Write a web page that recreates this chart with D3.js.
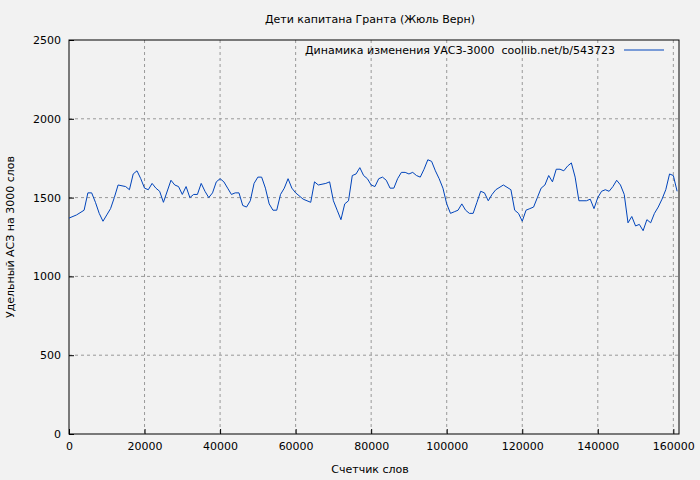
<!DOCTYPE html>
<html><head><meta charset="utf-8">
<script src="https://cdn.jsdelivr.net/npm/d3@7"></script>
<style>body{margin:0;background:#f2f2f2}text{font-family:"DejaVu Sans",sans-serif;font-size:11px;fill:#000;white-space:pre}</style>
</head><body><svg id="chart" width="700" height="480"></svg>
<script>
const words = [0,2000,4000,5000,6000,7000,8000,9000,10000,11000,12000,13000,15000,16000,17000,18000,19000,20000,21000,22000,23000,24000,25000,27000,28000,29000,30000,31000,32000,33000,34000,35000,36000,37000,38000,39000,40000,41000,42000,43000,44000,45000,46000,47000,48000,49000,50000,51000,52000,53000,54000,55000,56000,57000,58000,59000,60000,62000,64000,65000,66000,68000,69000,70000,71000,72000,73000,74000,75000,76000,77000,78000,79000,80000,81000,82000,83000,84000,85000,86000,87000,88000,89000,90000,91000,92000,93000,94000,95000,96000,97000,98000,99000,100000,101000,102000,103000,104000,105000,106000,107000,108000,109000,110000,111000,112000,113000,115000,117000,118000,119000,120000,121000,122000,123000,124000,125000,126000,127000,128000,129000,130000,131000,132000,133000,134000,135000,137000,138000,139000,140000,141000,142000,143000,144000,145000,146000,147000,148000,149000,150000,151000,152000,153000,154000,155000,156000,157000,158000,159000,160000,161000]
const uasz = [1370,1390,1420,1530,1530,1470,1400,1350,1390,1430,1500,1580,1570,1550,1650,1670,1620,1560,1550,1590,1560,1540,1470,1610,1580,1570,1520,1570,1500,1520,1520,1590,1540,1500,1530,1600,1620,1600,1560,1520,1530,1530,1450,1440,1480,1590,1630,1630,1560,1460,1420,1420,1520,1560,1620,1560,1530,1490,1470,1600,1580,1590,1600,1480,1420,1360,1460,1480,1640,1650,1690,1640,1620,1580,1570,1620,1630,1610,1560,1560,1620,1660,1660,1650,1660,1640,1630,1680,1740,1730,1670,1620,1560,1460,1400,1410,1420,1460,1420,1400,1400,1470,1540,1530,1480,1520,1550,1580,1550,1420,1400,1350,1420,1430,1440,1500,1560,1580,1640,1600,1680,1680,1670,1700,1720,1630,1480,1480,1490,1430,1500,1540,1550,1540,1570,1610,1580,1520,1340,1380,1320,1330,1290,1360,1340,1400,1440,1490,1550,1650,1640,1540]
const xTicks = [0,20000,40000,60000,80000,100000,120000,140000,160000]
const yTicks = [0,500,1000,1500,2000,2500]

const svg = d3.select("#chart")
const margin = {top: 40, right: 21, bottom: 46, left: 69}
const width = 700 - margin.left - margin.right, height = 480 - margin.top - margin.bottom
const g = svg.append("g").attr("transform", `translate(${margin.left},${margin.top})`)

const x = d3.scaleLinear().domain([0, 161500]).range([0, width])
const y = d3.scaleLinear().domain([0, 2500]).range([height, 0])

// grid
g.selectAll(".gx").data(xTicks.slice(1)).enter().append("line")
    .attr("x1", d => x(d)).attr("x2", d => x(d)).attr("y1", 0).attr("y2", height)
    .attr("stroke", "#999").attr("stroke-dasharray", "3,3")
g.selectAll(".gy").data(yTicks.slice(1, -1)).enter().append("line")
    .attr("x1", 0).attr("x2", width).attr("y1", d => y(d)).attr("y2", d => y(d))
    .attr("stroke", "#999").attr("stroke-dasharray", "3,3")

g.append("g").attr("transform", `translate(0,${height})`)
    .call(d3.axisBottom(x).tickValues(xTicks).tickFormat(d3.format("d")).tickSize(-5).tickPadding(8))
    .call(a => a.select(".domain").remove())
g.append("g")
    .call(d3.axisLeft(y).tickValues(yTicks).tickFormat(d3.format("d")).tickSize(-5).tickPadding(8))
    .call(a => a.select(".domain").remove())
g.selectAll(".tick text").style("font-size", "11px").attr("fill", "#000")
g.append("rect").attr("width", width).attr("height", height)
    .attr("fill", "none").attr("stroke", "#000")

const line = d3.line().x((d, i) => x(words[i])).y(d => y(d))
g.append("path").datum(uasz).attr("d", line)
    .attr("fill", "none").attr("stroke", "#0044bb").attr("stroke-width", 1)

// legend
g.append("text").attr("x", width - 64).attr("y", 14).attr("text-anchor", "end")
    .text("Динамика изменения УАСЗ-3000  coollib.net/b/543723")
g.append("line").attr("x1", width - 55).attr("x2", width - 15).attr("y1", 10).attr("y2", 10)
    .attr("stroke", "#0044bb")

svg.append("text").attr("x", 370).attr("y", 23).attr("text-anchor", "middle")
    .text("Дети капитана Гранта (Жюль Верн)")
svg.append("text").attr("x", 370).attr("y", 473).attr("text-anchor", "middle").text("Счетчик слов")
svg.append("text").attr("transform", "translate(14,237) rotate(-90)").attr("text-anchor", "middle")
    .text("Удельный АСЗ на 3000 слов")
</script></body></html>
